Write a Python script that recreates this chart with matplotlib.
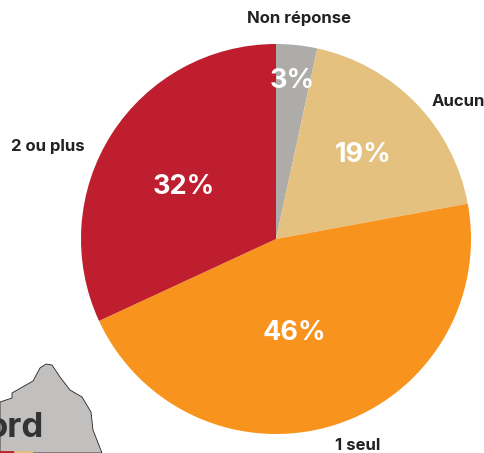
import matplotlib
matplotlib.use("Agg")
import matplotlib.pyplot as plt

plt.rcParams["font.family"] = ["Inter", "DejaVu Sans"]

# valeurs (parts du camembert, dans le sens horaire)
categories = ["Non réponse", "Aucun", "1 seul", "2 ou plus"]
values = [3.4, 18.7, 46.0, 31.9]
value_labels = ["3%", "19%", "46%", "32%"]
colors = ["#aeaca9", "#e5c17f", "#f8931d", "#be1e2d"]

# positions des textes en pixels
cat_pos = [(299.5, 19), (458, 102), (357.5, 445), (47.5, 147)]
val_pos = [(292.5, 81), (363.5, 155), (294, 333), (184, 187)]

# morceau de carte en bas a gauche
map_x = [0, 12, 12, 33, 40, 46, 52, 60, 70, 82, 91, 93, 102, 0]
map_y = [402, 398, 393, 381, 368, 364, 365, 377, 390, 397, 412, 430, 453, 453]

W, H = 485, 453
fig = plt.figure(figsize=(W / 100, H / 100), dpi=100)
ax = fig.add_axes([0, 0, 1, 1])

# carte
ax.fill(map_x, [H - y for y in map_y], fc="#c2c0be", ec="#222222", lw=0.6, zorder=1)
ax.text(44, H - 428, "ord", fontsize=25, fontweight="bold", color="#333333",
        ha="right", va="center", zorder=2)
ax.plot([0, 15], [H - 452, H - 452], color="#be1e2d", lw=2, zorder=2)
ax.plot([15, 31], [H - 452, H - 452], color="#e5c17f", lw=2, zorder=2)

# camembert
ax.pie(values, colors=colors, startangle=90, counterclock=False,
       center=(276, H - 239), radius=195, frame=True,
       wedgeprops=dict(lw=0), normalize=True)

for name, (x, y) in zip(categories, cat_pos):
    ax.text(x, H - y, name, fontsize=12, fontweight="bold", color="#222222",
            ha="center", va="center")

for lab, (x, y) in zip(value_labels, val_pos):
    ax.text(x, H - y, lab, fontsize=19.5, fontweight="bold", color="white",
            ha="center", va="center")

ax.set_xlim(0, W)
ax.set_ylim(0, H)
ax.set_aspect("equal")
ax.axis("off")

fig.savefig("out.png", dpi=100)
